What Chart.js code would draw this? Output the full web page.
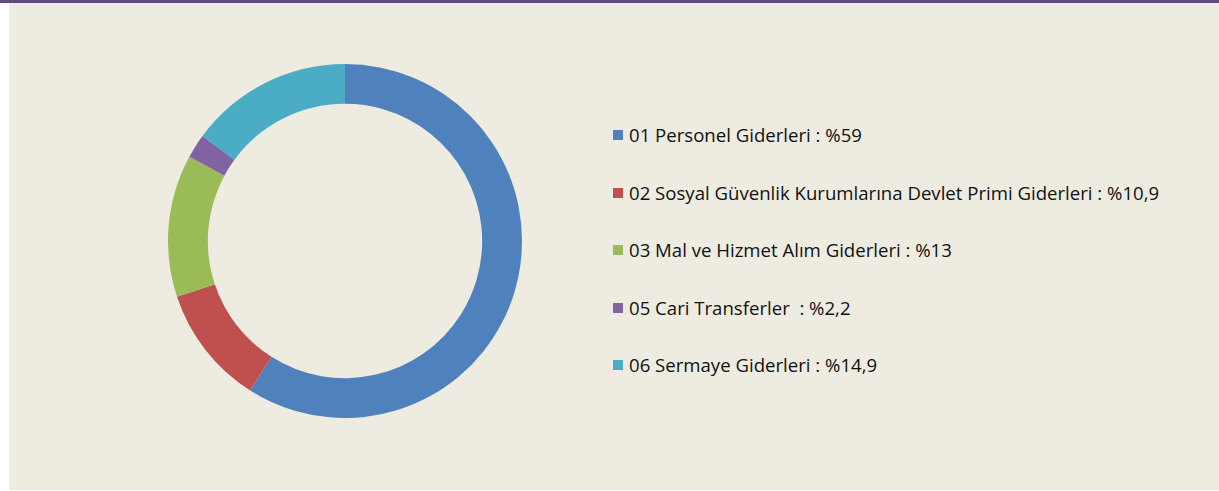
<!DOCTYPE html>
<html>
<head>
<meta charset="utf-8">
<script src="https://cdn.jsdelivr.net/npm/chart.js@4.4.1/dist/chart.umd.min.js"></script>
<style>
  html, body { margin: 0; padding: 0; background: #ffffff; }
  #frame {
    position: absolute; left: 0; top: 0; width: 1219px; height: 491px; overflow: hidden;
  }
  #topbar { position: absolute; left: 0; top: 0; width: 1219px; height: 3px; background: #604a7b; }
  #panel { position: absolute; left: 9px; top: 3px; width: 1210px; height: 487px; background: #eeece1; }
  #chartBox { position: absolute; left: 168px; top: 64px; width: 354px; height: 354px; }
  #legend {
    position: absolute; left: 613px; top: 125px;
    font-family: "Open Sans", Lato, sans-serif; font-size: 18.6px; color: #111;
  }
  .item { height: 20px; line-height: 20px; margin-bottom: 37.5px; display: flex; align-items: center; white-space: pre; }
  .sw { width: 10px; height: 10px; margin-right: 6px; flex: none; }
</style>
</head>
<body>
<div id="frame">
  <div id="topbar"></div>
  <div id="panel"></div>
  <div id="chartBox"><canvas id="pie"></canvas></div>
  <div id="legend"></div>
</div>
<script>
const categories = [
  '01 Personel Giderleri : %59',
  '02 Sosyal Güvenlik Kurumlarına Devlet Primi Giderleri : %10,9',
  '03 Mal ve Hizmet Alım Giderleri : %13',
  '05 Cari Transferler  : %2,2',
  '06 Sermaye Giderleri : %14,9'
];
const shares = [59, 10.9, 13, 2.2, 14.9];
const colors = ['#4f81bd', '#c0504d', '#9bbb59', '#8064a2', '#4bacc6'];

new Chart(document.getElementById('pie'), {
  type: 'doughnut',
  data: {
    labels: categories,
    datasets: [{ data: shares, backgroundColor: colors, borderWidth: 0 }]
  },
  options: {
    responsive: true,
    maintainAspectRatio: false,
    animation: false,
    cutout: '77.5%',
    layout: { padding: 0 },
    plugins: { legend: { display: false }, tooltip: { enabled: false } }
  }
});

const legend = document.getElementById('legend');
categories.forEach((label, i) => {
  const row = document.createElement('div');
  row.className = 'item';
  const sw = document.createElement('span');
  sw.className = 'sw';
  sw.style.background = colors[i];
  const txt = document.createElement('span');
  txt.textContent = label;
  row.appendChild(sw);
  row.appendChild(txt);
  legend.appendChild(row);
});
</script>
</body>
</html>
